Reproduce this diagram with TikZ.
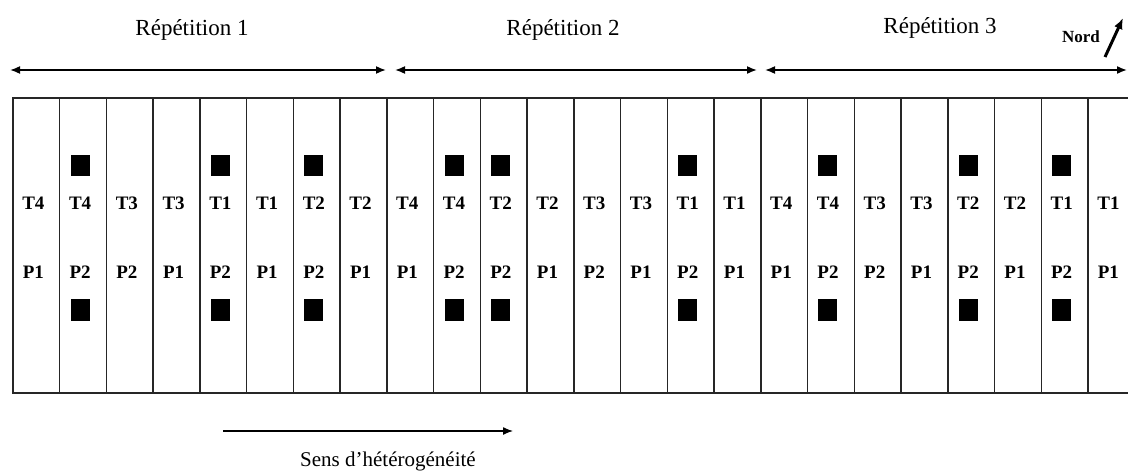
\documentclass[tikz,border=0pt]{standalone}
\usepackage{fontspec}
\setmainfont{Liberation Serif}
\usetikzlibrary{arrows.meta}

\begin{document}
\begin{tikzpicture}[x=1pt,y=-1pt,
  plotline/.style={draw=black!85,line width=1.5pt},
  lab/.style={font=\fontsize{19}{19}\selectfont\bfseries,inner sep=0pt},
  marker/.style={fill=black,draw=none},
  rep/.style={font=\fontsize{23}{23}\selectfont,inner sep=0pt},
  span/.style={{Latex[length=10pt,width=8pt]}-{Latex[length=10pt,width=8pt]},line width=1.6pt}]
\useasboundingbox (0,0) rectangle (1128,471);
\clip (0,0) rectangle (1128,471);

% repetitions (top)
\node[rep] (rep1) at (192,30) {Répétition 1};
\node[rep] (rep2) at (563,30) {Répétition 2};
\node[rep] (rep3) at (940,28) {Répétition 3};
\coordinate (a1) at (10,70);  \coordinate (b1) at (386,70);
\coordinate (a2) at (395,70); \coordinate (b2) at (757,70);
\coordinate (a3) at (765,70); \coordinate (b3) at (1127,70);
\foreach \r in {1,2,3} {
  \draw[span] (a\r) -- (b\r);
}

% north
\node[font=\fontsize{17}{17}\selectfont\bfseries,inner sep=0pt] (nord) at (1081,37) {Nord};
\coordinate (n0) at (1105,57);
\coordinate (n1) at (1123,18);
\draw[-{Latex[length=11pt,width=9pt]},line width=3pt] (n0) -- (n1);

% plots
\foreach \i/\t/\p/\m in {1/T4/P1/0,2/T4/P2/1,3/T3/P2/0,4/T3/P1/0,5/T1/P2/1,6/T1/P1/0,7/T2/P2/1,8/T2/P1/0,
  9/T4/P1/0,10/T4/P2/1,11/T2/P2/1,12/T2/P1/0,13/T3/P2/0,14/T3/P1/0,15/T1/P2/1,16/T1/P1/0,
  17/T4/P1/0,18/T4/P2/1,19/T3/P2/0,20/T3/P1/0,21/T2/P2/1,22/T2/P1/0,23/T1/P2/1,24/T1/P1/0} {
  \pgfmathsetmacro\xl{13+(\i-1)*46.74}
  \pgfmathsetmacro\xc{\xl+20.4}
  \draw[plotline] (\xl,98) rectangle ++(46.74,295);
  \node[lab] (t\i) at (\xc,203) {\t};
  \node[lab] (p\i) at (\xc,272) {\p};
  \ifnum\m=1
    \fill[marker] (\xc-9.5,155) rectangle ++(19,21);
    \fill[marker] (\xc-9.5,299) rectangle ++(19,22);
  \fi
}

% heterogeneity (bottom)
\coordinate (h0) at (223,431);
\coordinate (h1) at (513,431);
\draw[-{Latex[length=10pt,width=8pt]},line width=1.3pt] (h0) -- (h1);
\node[font=\fontsize{21}{21}\selectfont,inner sep=0pt] (sens) at (388,461) {Sens d’hétérogénéité};
\end{tikzpicture}
\end{document}
